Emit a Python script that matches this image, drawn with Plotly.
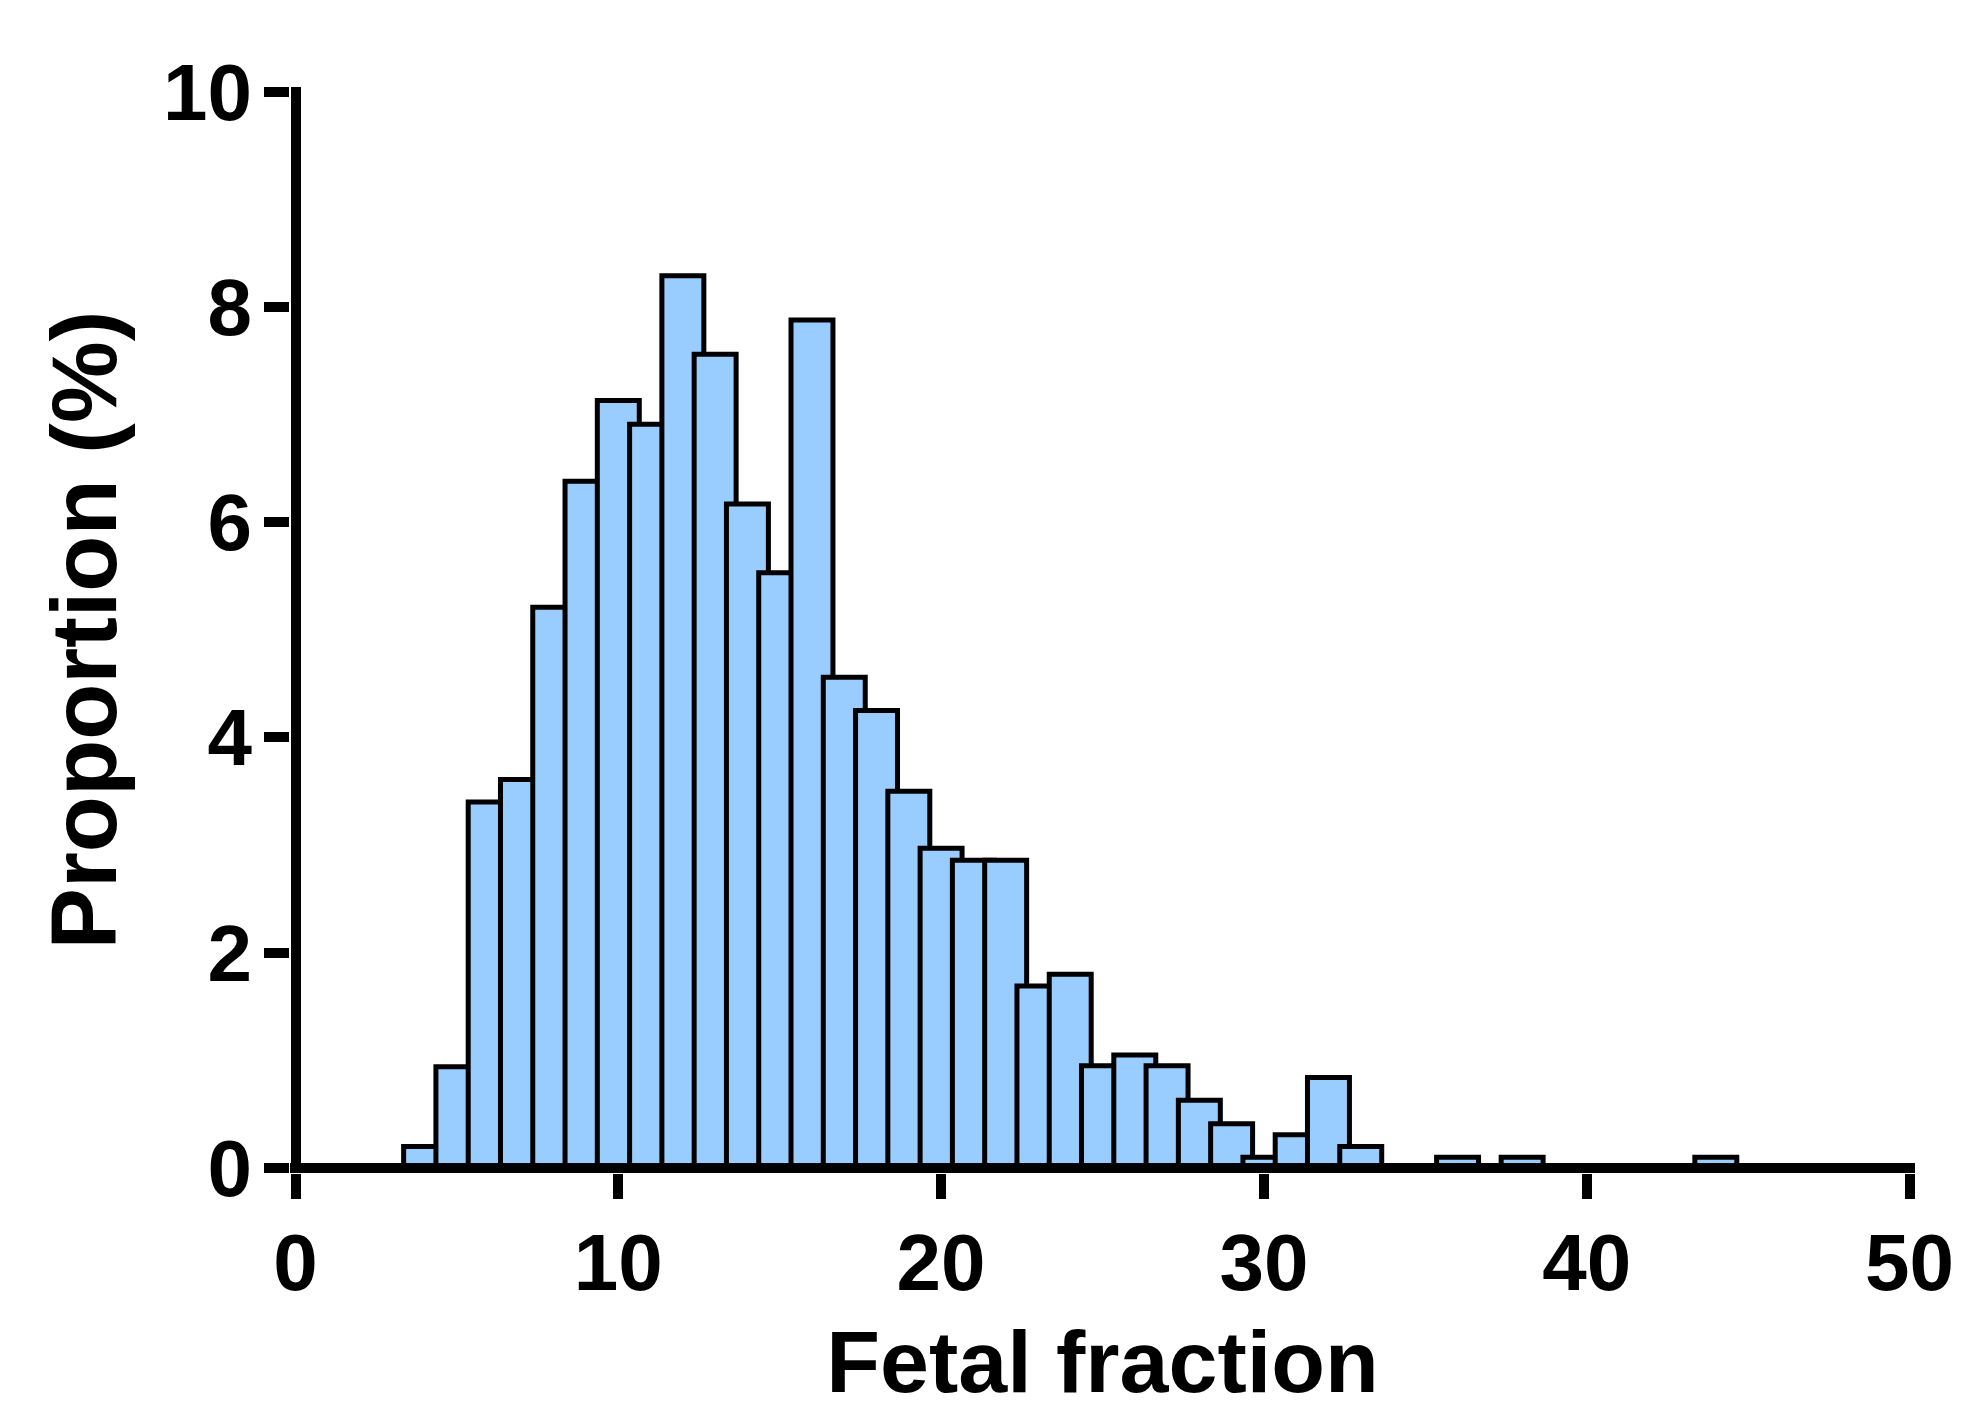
import plotly.graph_objects as go

# Histogram of fetal fraction (bin centres) and proportion of samples (%)
bin_centers = [4, 5, 6, 7, 8, 9, 10, 11, 12, 13, 14, 15, 16, 17, 18, 19, 20,
               21, 22, 23, 24, 25, 26, 27, 28, 29, 30, 31, 32, 33, 36, 38, 44]
proportion = [0.20, 0.94, 3.40, 3.61, 5.21, 6.38, 7.13, 6.91, 8.29, 7.56, 6.17,
              5.53, 7.88, 4.56, 4.25, 3.50, 2.97, 2.86, 2.86, 1.69, 1.80, 0.95,
              1.05, 0.95, 0.63, 0.41, 0.10, 0.31, 0.84, 0.20, 0.10, 0.10, 0.10]

x_ticks = [0, 10, 20, 30, 40, 50]
y_ticks = [0, 2, 4, 6, 8, 10]

FONT = "Liberation Sans, Arial, sans-serif"

fig = go.Figure(
    go.Bar(
        x=bin_centers,
        y=proportion,
        width=1.3,
        marker=dict(color="#99CCFF", line=dict(color="black", width=5)),
        hoverinfo="skip",
    )
)

W, H = 1962, 1411
ml, mr, mt, mb = 290, 47, 87, 238
pw = W - ml - mr
ph = H - mt - mb
# pixel positions of 0 inside the plot area (axis lines drawn as zerolines)
x0_off = 5.5
x_unit = 1614 / 50.0
y0_off = 5.0
y_unit = 1076.3 / 10.0
xr = [-x0_off / x_unit, -x0_off / x_unit + pw / x_unit]
yr = [-y0_off / y_unit, -y0_off / y_unit + ph / y_unit]

fig.update_layout(
    template="none",
    width=W,
    height=H,
    margin=dict(l=ml, r=mr, t=mt, b=mb, autoexpand=False),
    plot_bgcolor="white",
    paper_bgcolor="white",
    showlegend=False,
    font=dict(family=FONT, color="black"),
)

fig.update_xaxes(
    automargin=False,
    range=xr,
    tickmode="array",
    tickvals=x_ticks,
    ticktext=[str(v) for v in x_ticks],
    showgrid=False,
    showline=False,
    zeroline=True,
    zerolinecolor="black",
    zerolinewidth=10,
    ticks="outside",
    ticklen=25,
    tickwidth=10,
    tickcolor="black",
    ticklabelstandoff=-5,
    tickfont=dict(family=FONT, size=80, color="black", weight="bold"),
    title=dict(text="Fetal fraction", font=dict(family=FONT, size=88, color="black", weight="bold"), standoff=36),
)
fig.update_yaxes(
    automargin=False,
    range=yr,
    tickmode="array",
    tickvals=y_ticks,
    ticktext=[str(v) for v in y_ticks],
    showgrid=False,
    showline=False,
    zeroline=True,
    zerolinecolor="black",
    zerolinewidth=10,
    ticks="outside",
    ticklen=25,
    tickwidth=10,
    tickcolor="black",
    ticklabelstandoff=-4,
    tickfont=dict(family=FONT, size=80, color="black", weight="bold"),
    title=dict(text="Proportion (%)", font=dict(family=FONT, size=92, color="black", weight="bold"), standoff=15),
)

try:
    fig.update_xaxes(zerolinelayer="above traces")
    fig.update_yaxes(zerolinelayer="above traces")
except Exception:
    pass

fig.write_html(
    "out.html",
    config={"displayModeBar": False, "staticPlot": True},
    post_script="document.body.style.margin='0';document.body.style.overflow='hidden';",
)
